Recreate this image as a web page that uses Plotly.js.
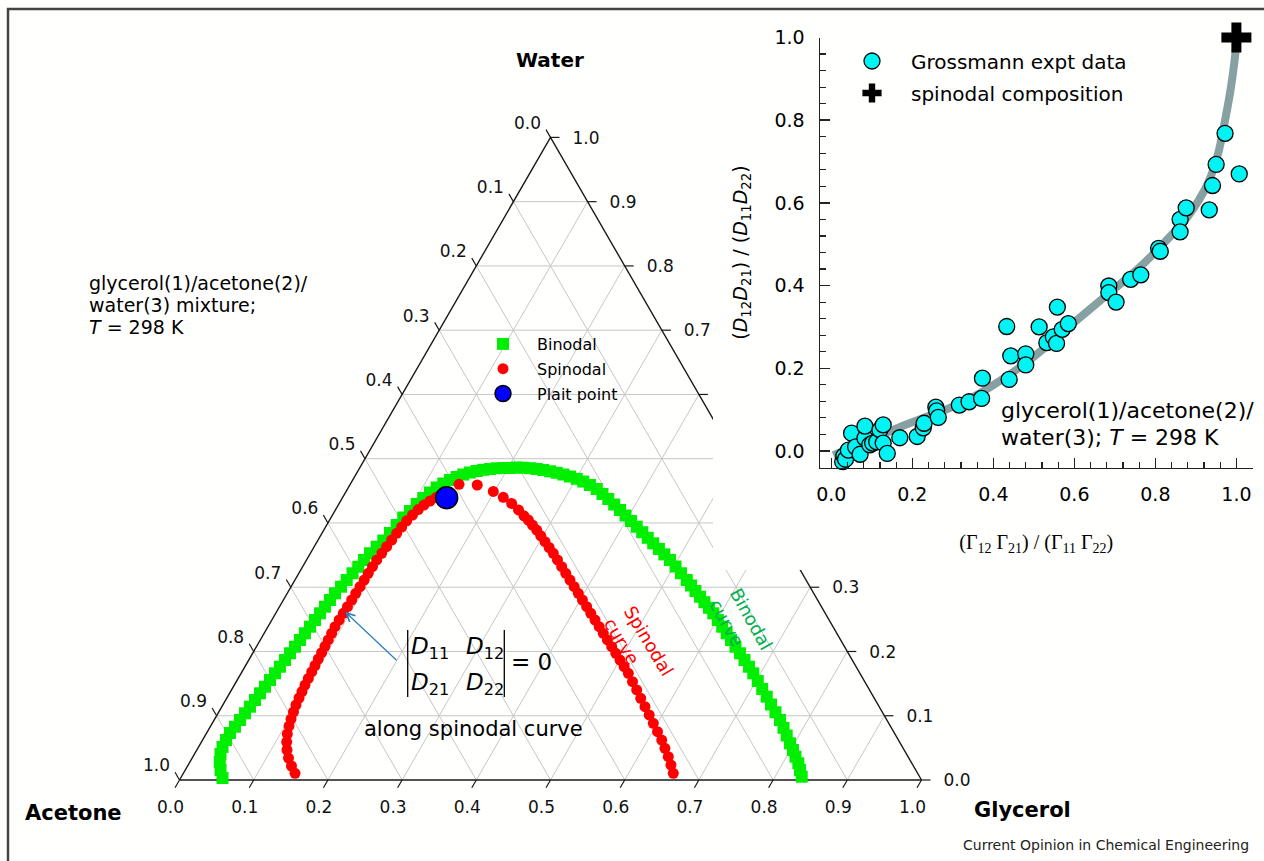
<!DOCTYPE html>
<html><head><meta charset="utf-8">
<script src="https://cdn.plot.ly/plotly-3.0.1.min.js"></script>
<style>html,body{margin:0;padding:0;background:#fff}#chart{width:1264px;height:861px}</style>
</head><body><div id="chart"></div>
<script>
// ---------------- Ternary data (mass fractions; acetone = 1 - glycerol - water) ----------------
const binodalGlycerol = [
0.0564,0.0475,0.0403,0.0350,0.0323,0.0316,0.0315,0.0333,0.0348,0.0364,
0.0379,0.0395,0.0410,0.0426,0.0442,0.0457,0.0472,0.0488,0.0503,0.0520,
0.0534,0.0549,0.0566,0.0581,0.0597,0.0612,0.0627,0.0643,0.0673,0.0697,
0.0723,0.0750,0.0775,0.0803,0.0842,0.0883,0.0915,0.0943,0.0973,0.1013,
0.1049,0.1092,0.1139,0.1190,0.1248,0.1311,0.1378,0.1448,0.1522,0.1600,
0.1680,0.1765,0.1849,0.1936,0.2026,0.2112,0.2203,0.2298,0.2394,0.2491,
0.2591,0.2693,0.2796,0.2901,0.3009,0.3119,0.3236,0.3359,0.3475,0.3592,
0.3715,0.3836,0.3953,0.4070,0.4191,0.4308,0.4426,0.4543,0.4663,0.4779,
0.4898,0.5024,0.5150,0.5280,0.5380,0.5483,0.5589,0.5691,0.5796,0.5897,
0.6010,0.6121,0.6233,0.6343,0.6456,0.6568,0.6681,0.6793,0.6903,0.7023,
0.7145,0.7266,0.7384,0.7505,0.7626,0.7734,0.7837,0.7942,0.8034,0.8120,
0.8210,0.8285,0.8360];
const binodalWater = [
0.0031,0.0156,0.0280,0.0405,0.0514,0.0622,0.0731,0.0829,0.0934,0.1038,
0.1141,0.1245,0.1349,0.1452,0.1556,0.1660,0.1763,0.1867,0.1972,0.2074,
0.2179,0.2283,0.2386,0.2490,0.2594,0.2697,0.2801,0.2905,0.3008,0.3112,
0.3217,0.3319,0.3424,0.3528,0.3631,0.3727,0.3844,0.3968,0.4085,0.4186,
0.4295,0.4388,0.4474,0.4552,0.4614,0.4669,0.4715,0.4754,0.4785,0.4809,
0.4827,0.4840,0.4851,0.4855,0.4855,0.4863,0.4860,0.4852,0.4840,0.4824,
0.4804,0.4781,0.4754,0.4723,0.4687,0.4645,0.4591,0.4528,0.4451,0.4373,
0.4287,0.4202,0.4116,0.4030,0.3942,0.3856,0.3769,0.3683,0.3596,0.3511,
0.3424,0.3322,0.3217,0.3112,0.3027,0.2941,0.2852,0.2767,0.2680,0.2594,
0.2490,0.2386,0.2283,0.2179,0.2074,0.1972,0.1867,0.1763,0.1660,0.1541,
0.1416,0.1296,0.1175,0.1054,0.0934,0.0812,0.0692,0.0571,0.0467,0.0363,
0.0260,0.0156,0.0051];
const spinodalGlycerol = [
0.1505,0.1400,0.1298,0.1215,0.1149,0.1095,0.1056,0.1028,0.1007,0.0986,
0.0973,0.0962,0.0952,0.0946,0.0941,0.0935,0.0929,0.0925,0.0920,0.0915,
0.0909,0.0903,0.0907,0.0911,0.0915,0.0920,0.0923,0.0929,0.0933,0.0935,
0.0941,0.0946,0.0961,0.0976,0.0992,0.1007,0.1026,0.1045,0.1078,0.1113,
0.1155,0.1205,0.1259,0.1324,0.1466,0.1717,0.1984,0.2164,0.2325,0.2468,
0.2587,0.2678,0.2773,0.2869,0.2969,0.3072,0.3173,0.3274,0.3382,0.3491,
0.3597,0.3707,0.3815,0.3922,0.4030,0.4139,0.4246,0.4355,0.4463,0.4570,
0.4678,0.4788,0.4894,0.5003,0.5111,0.5219,0.5340,0.5461,0.5581,0.5703,
0.5824,0.5944,0.6066,0.6188,0.6296,0.6406,0.6507,0.6603];
const spinodalWater = [
0.0104,0.0218,0.0342,0.0467,0.0591,0.0716,0.0840,0.0949,0.1058,0.1167,
0.1276,0.1377,0.1478,0.1580,0.1681,0.1782,0.1883,0.1981,0.2081,0.2179,
0.2283,0.2386,0.2490,0.2594,0.2697,0.2801,0.2905,0.3008,0.3112,0.3217,
0.3319,0.3424,0.3528,0.3631,0.3735,0.3839,0.3937,0.4034,0.4124,0.4209,
0.4279,0.4342,0.4396,0.4482,0.4602,0.4591,0.4490,0.4399,0.4303,0.4202,
0.4111,0.4046,0.3968,0.3890,0.3800,0.3708,0.3618,0.3528,0.3424,0.3319,
0.3217,0.3112,0.3008,0.2905,0.2801,0.2697,0.2594,0.2490,0.2386,0.2283,
0.2179,0.2074,0.1972,0.1867,0.1763,0.1660,0.1530,0.1401,0.1271,0.1141,
0.1012,0.0882,0.0752,0.0622,0.0493,0.0363,0.0233,0.0104];
const plaitGlycerol = [0.1404];
const plaitWater = [0.4393];
const ternaryTicks = [0,0.1,0.2,0.3,0.4,0.5,0.6,0.7,0.8,0.9,1.0];
const ternaryTickLabels = ['0.0','0.1','0.2','0.3','0.4','0.5','0.6','0.7','0.8','0.9','1.0'];

// ---------------- Inset data ----------------
const gammaRatio = [0.028,0.031,0.035,0.042,0.050,0.060,0.071,0.083,0.083,0.095,0.102,0.112,0.120,0.128,0.128,0.138,0.169,0.212,0.227,0.229,0.258,0.260,0.264,0.316,0.340,0.371,0.373,0.433,0.439,0.443,0.480,0.480,0.513,0.532,0.548,0.556,0.558,0.570,0.585,0.685,0.685,0.703,0.739,0.764,0.808,0.812,0.861,0.861,0.876,0.933,0.941,0.950,0.972,1.007];
const dRatio = [-0.026,-0.012,-0.020,0.002,0.043,0.010,-0.008,0.031,0.060,0.015,0.019,0.022,0.051,0.063,0.019,-0.006,0.032,0.035,0.056,0.067,0.106,0.097,0.081,0.111,0.119,0.127,0.176,0.301,0.173,0.230,0.235,0.208,0.300,0.262,0.276,0.260,0.348,0.294,0.308,0.399,0.383,0.360,0.415,0.426,0.490,0.483,0.560,0.530,0.588,0.583,0.642,0.693,0.768,0.670];
const fitX = [0.005,0.05,0.10,0.17,0.25,0.33,0.42,0.50,0.58,0.69,0.76,0.82,0.88,0.93,0.955,0.972,0.985,0.995,1.0];
const fitY = [-0.01,0.008,0.028,0.058,0.088,0.12,0.172,0.228,0.295,0.385,0.443,0.502,0.567,0.648,0.72,0.80,0.87,0.94,0.985];
const spinodalCompX = [1.0];
const spinodalCompY = [1.0];

// ---------------- geometry / style ----------------
const W = 1264, H = 861;
const LEFT_PX = 179.5, BASE_PX = 780, SIDE_PX = 742;
const u = 1 / SIDE_PX;
const SQ = Math.sqrt(3) / 2;
const cx = (g, w) => g + w / 2;
const cy = (g, w) => w * SQ;
const FONT = 'DejaVu Sans, Liberation Sans, sans-serif';
const px = v => v / W;
const py = v => 1 - v / H;

const traces = [];
// grid
const gridX = [], gridY = [];
function seg(a, b) {
  gridX.push(cx(a[0], a[1]), cx(b[0], b[1]), null);
  gridY.push(cy(a[0], a[1]), cy(b[0], b[1]), null);
}
ternaryTicks.forEach(t => {
  if (t <= 0 || t >= 1) return;
  seg([0, t], [1 - t, t]);
  seg([t, 0], [t, 1 - t]);
  seg([0, 1 - t], [1 - t, 0]);
});
traces.push({x: gridX, y: gridY, mode: 'lines', line: {color: '#c6c6c6', width: 1}, hoverinfo: 'skip', showlegend: false});
// outline
traces.push({x: [cx(0,0), cx(1,0), cx(0,1), cx(0,0)], y: [cy(0,0), cy(1,0), cy(0,1), cy(0,0)],
  mode: 'lines', line: {color: '#1a1a1a', width: 1.4}, hoverinfo: 'skip', showlegend: false});
// ticks and labels
const TL = 9 * u;
const tkX = [], tkY = [];
const bl = {x: [], y: [], t: []}, ll = {x: [], y: [], t: []}, rl = {x: [], y: [], t: []};
ternaryTicks.forEach((t, i) => {
  let ax = cx(t, 0), ay = cy(t, 0);
  tkX.push(ax, ax - 0.5 * TL, null); tkY.push(ay, ay - SQ * TL, null);
  bl.x.push(ax - 9 * u); bl.y.push(ay - 29 * u); bl.t.push(ternaryTickLabels[i]);
  ax = cx(0, 1 - t); ay = cy(0, 1 - t);
  const ex = ax - 0.5 * TL, ey = ay + SQ * TL;
  tkX.push(ax, ex, null); tkY.push(ay, ey, null);
  ll.x.push(ex - 5 * u); ll.y.push(ey + 5 * u); ll.t.push(ternaryTickLabels[i]);
  ax = cx(1 - t, t); ay = cy(1 - t, t);
  tkX.push(ax, ax + TL, null); tkY.push(ay, ay, null);
  rl.x.push(ax + 22 * u); rl.y.push(ay - 2 * u); rl.t.push(ternaryTickLabels[i]);
});
traces.push({x: tkX, y: tkY, mode: 'lines', line: {color: '#1a1a1a', width: 1.2}, hoverinfo: 'skip', showlegend: false});
const tfont = {family: FONT, size: 17, color: '#111'};
traces.push({x: bl.x, y: bl.y, text: bl.t, mode: 'text', textposition: 'middle center', textfont: tfont, hoverinfo: 'skip', showlegend: false, cliponaxis: false});
traces.push({x: ll.x, y: ll.y, text: ll.t, mode: 'text', textposition: 'middle left', textfont: tfont, hoverinfo: 'skip', showlegend: false, cliponaxis: false});
traces.push({x: rl.x, y: rl.y, text: rl.t, mode: 'text', textposition: 'middle right', textfont: tfont, hoverinfo: 'skip', showlegend: false, cliponaxis: false});

// data curves
traces.push({name: 'Binodal', legend: 'legend', legendgroup: 'b',
  x: binodalGlycerol.map((g, i) => cx(g, binodalWater[i])), y: binodalGlycerol.map((g, i) => cy(g, binodalWater[i])),
  mode: 'markers', marker: {symbol: 'square', size: 12, color: '#00ee00'}, cliponaxis: false});
traces.push({name: 'Spinodal', legend: 'legend', legendgroup: 's',
  x: spinodalGlycerol.map((g, i) => cx(g, spinodalWater[i])), y: spinodalGlycerol.map((g, i) => cy(g, spinodalWater[i])),
  mode: 'markers', marker: {symbol: 'circle', size: 11, color: '#ff0000'}, cliponaxis: false});
traces.push({name: 'Plait point', legend: 'legend', legendgroup: 'p',
  x: plaitGlycerol.map((g, i) => cx(g, plaitWater[i])), y: plaitGlycerol.map((g, i) => cy(g, plaitWater[i])),
  mode: 'markers', marker: {symbol: 'circle', size: 22, color: '#0000ff', line: {color: '#000', width: 1.5}}, cliponaxis: false});

// cover panel behind the inset
traces.push({x: [0.5], y: [0.5], xaxis: 'x2', yaxis: 'y2', mode: 'markers', marker: {opacity: 0}, hoverinfo: 'skip', showlegend: false});

// inset
traces.push({x: fitX, y: fitY, xaxis: 'x3', yaxis: 'y3', mode: 'lines', line: {color: '#87a0a2', width: 8, shape: 'spline'}, hoverinfo: 'skip', showlegend: false, cliponaxis: false});
traces.push({name: 'Grossmann expt data', legend: 'legend2', legendgroup: 'g', x: gammaRatio, y: dRatio, xaxis: 'x3', yaxis: 'y3',
  mode: 'markers', marker: {symbol: 'circle', size: 16, color: '#00f4f4', line: {color: '#000', width: 1.3}}, cliponaxis: false});
traces.push({name: 'spinodal composition', legend: 'legend2', legendgroup: 'c', x: spinodalCompX, y: spinodalCompY, xaxis: 'x3', yaxis: 'y3',
  mode: 'markers', marker: {symbol: 'cross', size: 25, color: '#000'}, cliponaxis: false});

const axisCommon = {showline: true, linecolor: '#222', linewidth: 1.5, ticks: 'inside', ticklen: 10, tickwidth: 1.5, tickcolor: '#222',
  dtick: 0.2, tick0: 0, tickformat: '.1f', showgrid: false, zeroline: false, fixedrange: true,
  tickfont: {family: FONT, size: 19, color: '#000'},
  minor: {dtick: 0.04, tick0: 0, ticks: 'inside', ticklen: 6, tickwidth: 1.2, tickcolor: '#222', showgrid: false}};

const ann = [];
const A = (o) => ann.push(Object.assign({xref: 'paper', yref: 'paper', xanchor: 'center', yanchor: 'middle', showarrow: false, font: {family: FONT, size: 19, color: '#000'}}, o));
A({text: '<b>Water</b>', x: px(550), y: py(60), font: {family: FONT, size: 20, color: '#000'}});
A({text: '<b>Acetone</b>', x: px(73), y: py(813), font: {family: FONT, size: 21, color: '#000'}});
A({text: '<b>Glycerol</b>', x: px(1022), y: py(810), font: {family: FONT, size: 21, color: '#000'}});
A({text: 'glycerol(1)/acetone(2)/', x: px(87), y: py(283), xanchor: 'left'});
A({text: 'water(3) mixture;', x: px(87), y: py(305), xanchor: 'left'});
A({text: '<i>T</i> = 298 K', x: px(87), y: py(327), xanchor: 'left'});
A({text: 'glycerol(1)/acetone(2)/', x: px(999), y: py(410), xanchor: 'left', font: {family: FONT, size: 22, color: '#000'}});
A({text: 'water(3); <i>T</i> = 298 K', x: px(999), y: py(437), xanchor: 'left', font: {family: FONT, size: 22, color: '#000'}});
const dfont = {family: FONT, size: 23, color: '#000'};
A({text: '<i>D</i><sub>11</sub>', x: px(409), y: py(648), xanchor: 'left', font: dfont});
A({text: '<i>D</i><sub>12</sub>', x: px(464), y: py(648), xanchor: 'left', font: dfont});
A({text: '<i>D</i><sub>21</sub>', x: px(409), y: py(684), xanchor: 'left', font: dfont});
A({text: '<i>D</i><sub>22</sub>', x: px(464), y: py(684), xanchor: 'left', font: dfont});
A({text: '= 0', x: px(509), y: py(662), xanchor: 'left', font: {family: FONT, size: 23, color: '#000'}});
A({text: 'along spinodal curve', x: px(473), y: py(729), font: {family: FONT, size: 21, color: '#000'}});
A({text: '', x: px(345), y: py(611.7), showarrow: true, ax: 53, ay: 50, arrowhead: 5, arrowsize: 1.4, arrowwidth: 1.2, arrowcolor: '#2a7bc0'});
A({text: 'Spinodal<br>curve', x: px(639), y: py(647), align: 'left', textangle: 59, font: {family: FONT, size: 18, color: '#ff0000'}});
A({text: 'Binodal<br>curve', x: px(741), y: py(624), align: 'left', textangle: 61, font: {family: FONT, size: 18, color: '#00b050'}});
A({text: 'Current Opinion in Chemical Engineering', x: px(1251), y: py(845), xanchor: 'right', font: {family: FONT, size: 14, color: '#222'}});

const layout = {
  width: W, height: H, autosize: false,
  margin: {l: 0, r: 0, t: 0, b: 0, pad: 0},
  paper_bgcolor: '#ffffff', plot_bgcolor: '#fffffe',
  font: {family: FONT, color: '#000'},
  showlegend: true,
  xaxis: {domain: [0, 1], range: [-LEFT_PX / SIDE_PX, (W - LEFT_PX) / SIDE_PX], visible: false, fixedrange: true},
  yaxis: {domain: [0, 1], range: [-(H - BASE_PX) / SIDE_PX, BASE_PX / SIDE_PX], visible: false, fixedrange: true},
  xaxis2: {domain: [713 / W, 1], range: [0, 1], visible: false, anchor: 'y2', fixedrange: true},
  yaxis2: {domain: [1 - 570 / H, 1], range: [0, 1], visible: false, anchor: 'x2', fixedrange: true},
  xaxis3: Object.assign({}, axisCommon, {domain: [820 / W, 1252.6 / W], range: [-0.028, 1.04], anchor: 'y3', ticklabelstandoff: 9,
    title: {text: '(\u0393<sub>12</sub> \u0393<sub>21</sub>) / (\u0393<sub>11</sub> \u0393<sub>22</sub>)', font: {family: 'Liberation Serif, serif', size: 20, color: '#000'}, standoff: 31}}),
  yaxis3: Object.assign({}, axisCommon, {domain: [1 - 467.5 / H, 1 - 37.5 / H], range: [-0.04, 1.0], anchor: 'x3', ticklabelstandoff: 10,
    title: {text: '(<i>D</i><sub>12</sub><i>D</i><sub>21</sub>) / (<i>D</i><sub>11</sub><i>D</i><sub>22</sub>)', font: {family: FONT, size: 19, color: '#000'}, standoff: 22}}),
  legend: {x: px(469), y: py(327), xanchor: 'left', yanchor: 'top', bgcolor: 'rgba(0,0,0,0)', borderwidth: 0,
    font: {family: FONT, size: 16, color: '#000'}, itemwidth: 58, tracegroupgap: 1},
  legend2: {x: px(833), y: py(41.5), xanchor: 'left', yanchor: 'top', bgcolor: 'rgba(0,0,0,0)', borderwidth: 0,
    font: {family: FONT, size: 20, color: '#000'}, itemwidth: 68, tracegroupgap: 3},
  annotations: ann,
  shapes: [
    {type: 'line', xref: 'paper', yref: 'paper', x0: px(407.7), x1: px(407.7), y0: py(630), y1: py(697), line: {color: '#000', width: 1.3}},
    {type: 'line', xref: 'paper', yref: 'paper', x0: px(504.3), x1: px(504.3), y0: py(630), y1: py(697), line: {color: '#000', width: 1.3}},
    {type: 'rect', xref: 'paper', yref: 'paper', x0: px(8), y0: -0.02, x1: 1.02, y1: py(9), line: {color: '#444', width: 2.5}, layer: 'above'}
  ]
};

Plotly.newPlot('chart', traces, layout, {displayModeBar: false, staticPlot: true});
</script>
</body></html>
